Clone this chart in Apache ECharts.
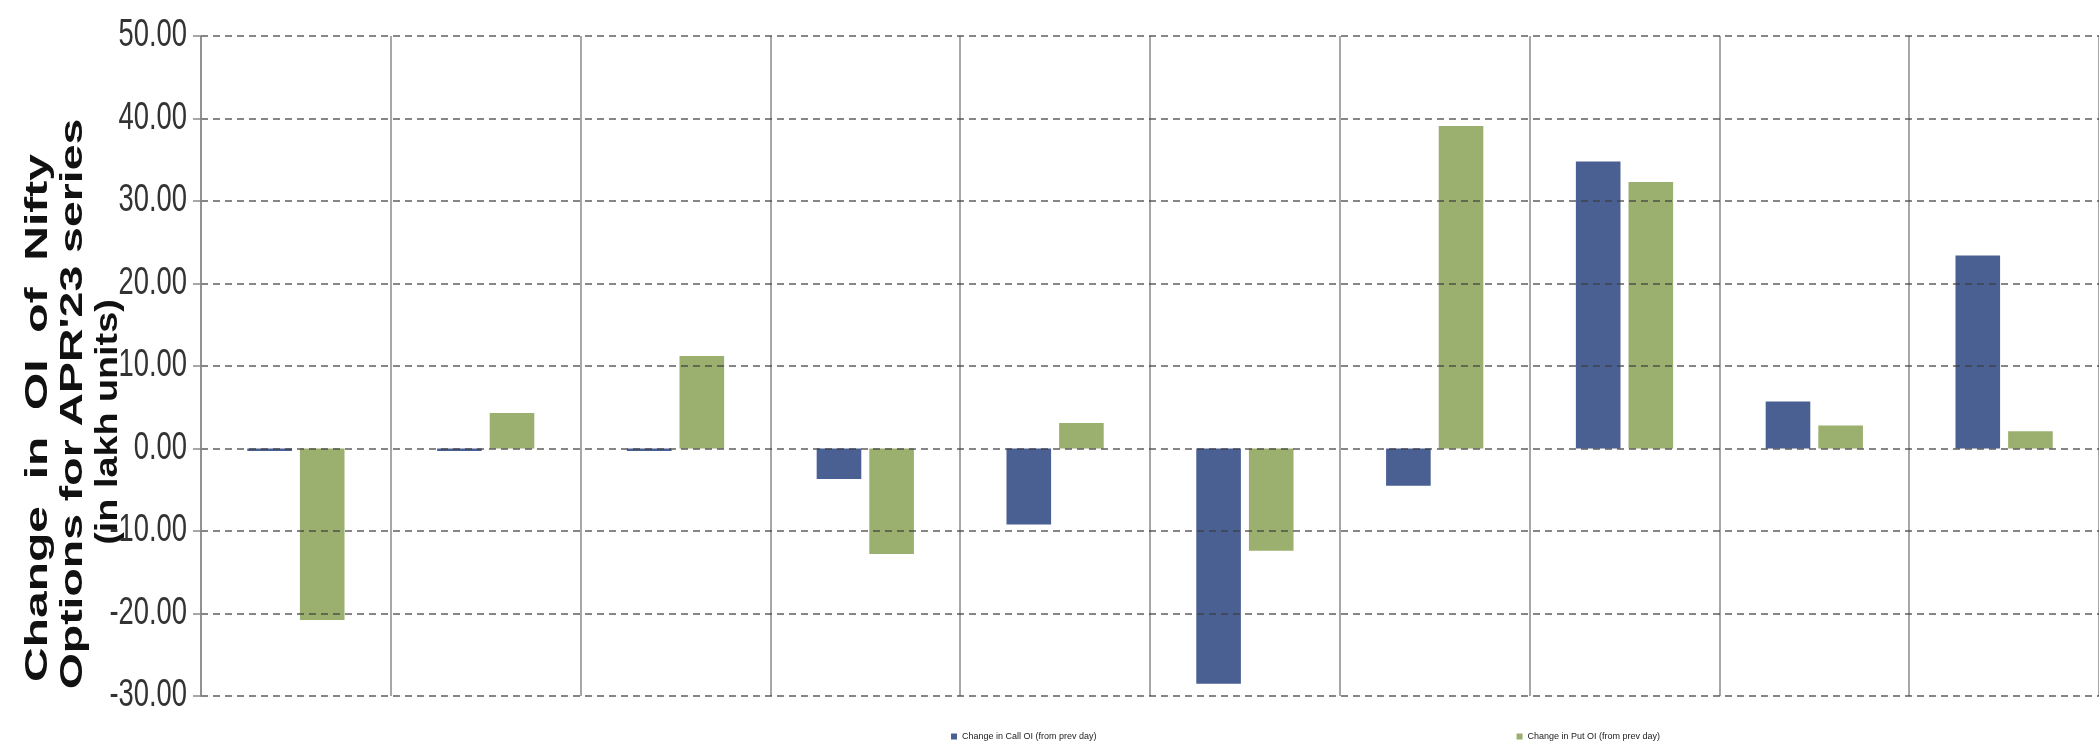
<!DOCTYPE html>
<html>
<head>
<meta charset="utf-8">
<script src="https://cdn.jsdelivr.net/npm/echarts@6/dist/echarts.min.js"></script>
<style>
    html, body { margin: 0; padding: 0; background: #fff; }
    #chart { width: 2099px; height: 746px; }
</style>
</head>
<body>
<div id="chart"></div>
<script>
// strikes are not labelled in the picture
var categories = ['1', '2', '3', '4', '5', '6', '7', '8', '9', '10'];
var callOI = [-0.3, -0.3, -0.3, -3.7, -9.2, -28.5, -4.5, 34.8, 5.7, 23.4];
var putOI = [-20.8, 4.3, 11.2, -12.8, 3.1, -12.4, 39.1, 32.3, 2.8, 2.1];
var seriesNames = ['Change in Call OI (from prev day)', 'Change in Put OI (from prev day)'];
var yTicks = [-30, -20, -10, 0, 10, 20, 30, 40, 50];
var yTitle = ['Change  in  OI  of  Nifty', "Options for APR'23 series", '(in lakh units)'];

var chart = echarts.init(document.getElementById('chart'));
var option = {
    animation: false,
    color: ['#4a5f92', '#9bb06e'],
    grid: { left: 201, top: 36, bottom: 50, width: 1902 },
    legend: {
        data: seriesNames,
        left: 946,
        top: 727,
        itemWidth: 6,
        itemHeight: 6,
        itemGap: 420,
        icon: 'rect',
        textStyle: { fontSize: 9, color: '#222', fontFamily: 'Liberation Sans' }
    },
    xAxis: {
        type: 'category',
        data: categories,
        axisLine: { show: false },
        axisTick: { show: false },
        axisLabel: { show: false },
        splitLine: { show: true, lineStyle: { color: '#8a8a8a', width: 1.5 } }
    },
    yAxis: {
        type: 'value',
        min: yTicks[0],
        max: yTicks[yTicks.length - 1],
        interval: 10,
        z: 3,
        axisLine: { show: true, lineStyle: { color: '#8a8a8a', width: 1.5 } },
        axisTick: { show: true, length: 8, lineStyle: { color: '#8a8a8a', width: 1.5 } },
        // labels are drawn below, narrowed like the original
        axisLabel: { show: false },
        splitLine: { lineStyle: { color: 'rgba(60,60,60,0.62)', width: 2, type: [7, 5] } }
    },
    series: [
        { name: seriesNames[0], type: 'bar', data: callOI, barWidth: '23.5%', barGap: '18%' },
        { name: seriesNames[1], type: 'bar', data: putOI, barWidth: '23.5%', barGap: '18%' }
    ]
};
chart.setOption(option);

// x, y, stretch along the text
var titlePos = [[38, 418, 1.5], [73, 404, 1.45], [108, 422, 1.18]];
var graphics = yTitle.map(function (t, i) {
    return {
        type: 'text',
        x: titlePos[i][0],
        y: titlePos[i][1],
        rotation: Math.PI / 2,
        scaleX: titlePos[i][2],
        style: {
            text: t,
            font: 'bold 32px "Liberation Sans"',
            fill: '#111',
            align: 'center',
            verticalAlign: 'middle'
        }
    };
});
yTicks.forEach(function (v) {
    graphics.push({
        type: 'text',
        x: 187,
        y: chart.convertToPixel({ yAxisIndex: 0 }, v),
        scaleX: 0.72,
        style: {
            text: v.toFixed(2),
            font: '38px "Liberation Sans"',
            fill: '#333',
            align: 'right',
            verticalAlign: 'middle'
        }
    });
});
chart.setOption({ graphic: graphics });
</script>
</body>
</html>
